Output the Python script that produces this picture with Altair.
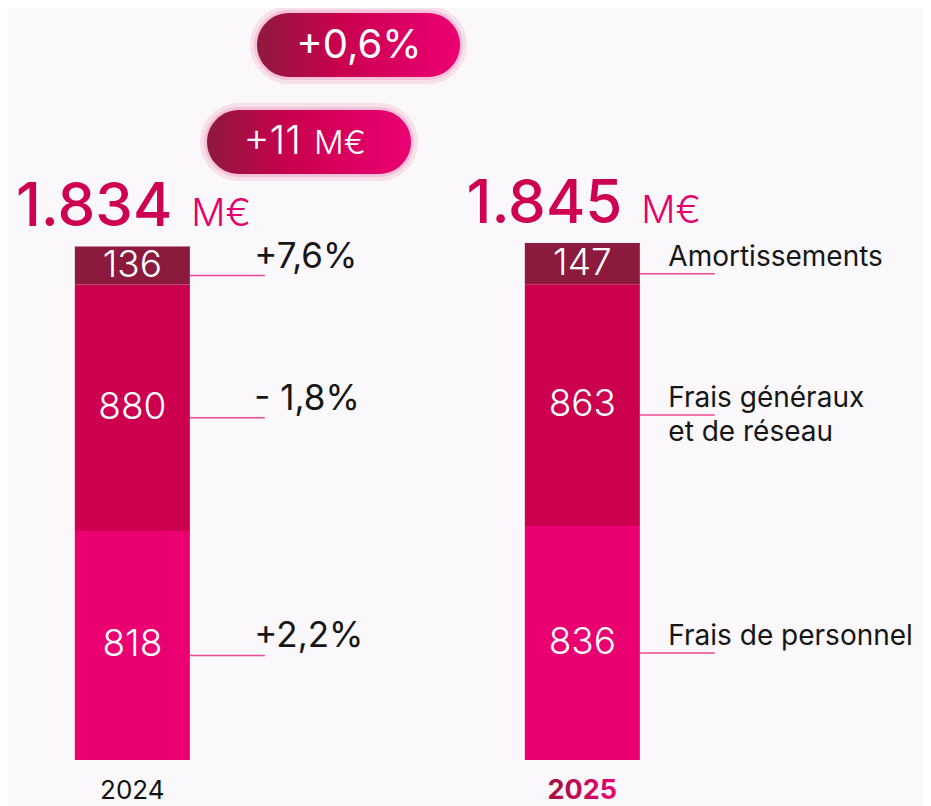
import altair as alt
import pandas as pd

# ---------------- data ----------------
years = ["2024", "2025"]
categories = ["Frais de personnel", "Frais généraux et de réseau", "Amortissements"]
category_labels = ["Frais de personnel", "Frais généraux\net de réseau", "Amortissements"]
values_2024 = [818, 880, 136]
values_2025 = [836, 863, 147]
changes = ["+2,2%", "- 1,8%", "+7,6%"]          # 2025 vs 2024 per category
totals = [1834, 1845]
total_labels = ["1.834", "1.845"]
unit = "M€"
total_change_pct = "+0,6%"
total_change_abs = "+11"
seg_colors = ["#EB0072", "#CC004F", "#8C1A3D"]

# ---------------- tables ----------------
rows = []
for yr, vals in zip(years, [values_2024, values_2025]):
    base = 0
    for cat, lab, chg, v in zip(categories, category_labels, changes, vals):
        rows.append(dict(year=yr, category=cat, catlabel=lab, change=chg, value=v,
                         y0=base, y1=base + v, mid=base + v / 2))
        base += v
seg = pd.DataFrame(rows)
tot = pd.DataFrame(dict(year=years, total=totals, label=total_labels, unit=unit))
yrs = pd.DataFrame(dict(year=years))

FONT = "Inter"
W, H = 915, 798
xs = alt.Scale(domain=years, paddingInner=0.7444, paddingOuter=0.3889, align=0.191)
ys = alt.Scale(domain=[-164.3, 2685.7], nice=False, zero=False)
X = alt.X("year:N", scale=xs, axis=None)

bars = alt.Chart(seg).mark_bar().encode(
    x=X,
    y=alt.Y("y0:Q", scale=ys, axis=None),
    y2="y1:Q",
    color=alt.Color("category:N", scale=alt.Scale(domain=categories, range=seg_colors), legend=None),
)

seg_text = alt.Chart(seg).mark_text(
    color="white", font=FONT, fontSize=37, fontWeight=300, baseline="middle"
).encode(x=X, y=alt.Y("mid:Q", scale=ys), text="value:Q")

connectors = alt.Chart(seg).mark_rule(
    color="#EE4A98", strokeWidth=1.5, xOffset=57.5, x2Offset=132.5, yOffset=10
).encode(x=X, x2="year:N", y=alt.Y("mid:Q", scale=ys))

pct_labels = alt.Chart(seg).transform_filter(alt.datum.year == "2024").mark_text(
    align="left", baseline="alphabetic", dx=122, dy=2, font=FONT, fontSize=35,
    fontWeight=400, color="#161616"
).encode(x=X, y=alt.Y("mid:Q", scale=ys), text="change:N")

cat_labels = alt.Chart(seg).transform_filter(alt.datum.year == "2025").mark_text(
    align="left", baseline="alphabetic", dx=86, dy=2, font=FONT, fontSize=28,
    fontWeight=400, color="#161616", lineBreak="\n", lineHeight=34
).encode(x=X, y=alt.Y("mid:Q", scale=ys), text="catlabel:N")

tot_num = alt.Chart(tot).mark_text(
    align="right", baseline="alphabetic", dx=40, dy=-20, font=FONT, fontSize=60,
    fontWeight=500, color="#CE0052"
).encode(x=X, y=alt.Y("total:Q", scale=ys), text="label:N")

tot_unit = alt.Chart(tot).mark_text(
    align="left", baseline="alphabetic", dx=59, dy=-20, font=FONT, fontSize=38,
    fontWeight=300, color="#E2006A"
).encode(x=X, y=alt.Y("total:Q", scale=ys), text="unit:N")

year_2024 = alt.Chart(yrs).transform_filter(alt.datum.year == "2024").mark_text(
    baseline="middle", dy=31, font=FONT, fontSize=26, fontWeight=400, color="#111111"
).encode(x=X, y=alt.datum(0), text="year:N")

year_2025 = alt.Chart(yrs).transform_filter(alt.datum.year == "2025").mark_text(
    baseline="middle", dy=31, font=FONT, fontSize=27, fontWeight=700,
    color=alt.Gradient(gradient="linear", x1=0, x2=1, y1=0, y2=0,
                       stops=[alt.GradientStop(color="#A0123F", offset=0),
                              alt.GradientStop(color="#EC0072", offset=1)])
).encode(x=X, y=alt.datum(0), text="year:N")

# ---------------- pills (annotations) ----------------
pill_grad = alt.Gradient(gradient="linear", x1=0, x2=1, y1=0, y2=0,
                         stops=[alt.GradientStop(color="#8E1A3E", offset=0),
                                alt.GradientStop(color="#C9004E", offset=0.4),
                                alt.GradientStop(color="#EC0072", offset=1)])
one = pd.DataFrame(dict(pct=[total_change_pct], abs=[total_change_abs], unit=[unit]))


def pill(x0, x1, y0, y1):
    glow1 = alt.Chart(one).mark_rect(cornerRadius=40, color="#F6C4DA", opacity=0.45).encode(
        x=alt.value(x0 - 7), x2=alt.value(x1 + 7), y=alt.value(y0 - 7), y2=alt.value(y1 + 7))
    glow2 = alt.Chart(one).mark_rect(cornerRadius=36, color="#F3A9CB", opacity=0.55).encode(
        x=alt.value(x0 - 3), x2=alt.value(x1 + 3), y=alt.value(y0 - 3), y2=alt.value(y1 + 3))
    body = alt.Chart(one).mark_rect(cornerRadius=(y1 - y0) / 2, color=pill_grad).encode(
        x=alt.value(x0), x2=alt.value(x1), y=alt.value(y0), y2=alt.value(y1))
    return [glow1, glow2, body]


pill1 = pill(249, 452, 5, 69)
pill2 = pill(199, 403, 102, 166)

pill1_text = alt.Chart(one).mark_text(
    color="white", font=FONT, fontSize=40, fontWeight=400, baseline="middle", align="center"
).encode(x=alt.value(351), y=alt.value(38), text="pct:N")
pill2_num = alt.Chart(one).mark_text(
    color="white", font=FONT, fontSize=40, fontWeight=300, baseline="middle", align="right"
).encode(x=alt.value(293), y=alt.value(134), text="abs:N")
pill2_unit = alt.Chart(one).mark_text(
    color="white", font=FONT, fontSize=33, fontWeight=300, baseline="middle", align="left"
).encode(x=alt.value(306), y=alt.value(136), text="unit:N")

chart = alt.layer(
    *pill1, *pill2, pill1_text, pill2_num, pill2_unit,
    bars, seg_text, connectors, pct_labels, cat_labels, tot_num, tot_unit,
    year_2024, year_2025,
).properties(
    width=W, height=H, padding=0, autosize=alt.AutoSizeParams(type="none"),
).configure(background="#FAF8FA").configure_view(stroke=None)

chart.save("out.html", embed_options={"renderer": "svg", "actions": False})
